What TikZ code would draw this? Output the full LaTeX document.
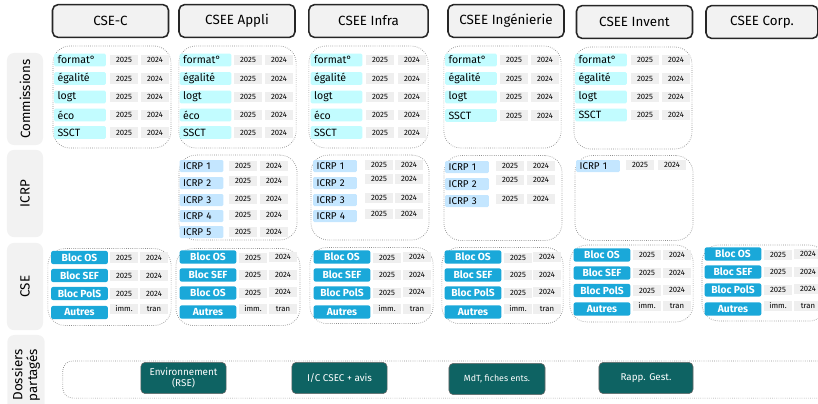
\documentclass[tikz,border=0pt]{standalone}
\usepackage{fontspec}
\setmainfont{Fira Sans}

\definecolor{headgray}{HTML}{F2F2F2}
\definecolor{comcyan}{HTML}{C2FCFF}
\definecolor{icrpblue}{HTML}{C4E6FF}
\definecolor{cseblue}{HTML}{1AA8D9}
\definecolor{yeargray}{HTML}{EFEFEF}
\definecolor{dosteal}{HTML}{0E6363}
\definecolor{panelgray}{HTML}{8C8C8C}

\tikzstyle{head}=[draw=black!85, line width=1.1pt, fill=headgray, rounded corners=4pt, minimum width=2.9cm, minimum height=0.82cm, font=\fontsize{9.5}{10.5}\selectfont]
\tikzstyle{side}=[fill=headgray, rounded corners=5pt, rotate=90, minimum height=0.9cm, align=center, font=\fontsize{9.5}{10.5}\selectfont]
\tikzstyle{panel}=[draw=panelgray, densely dotted, line width=0.5pt, rounded corners=12pt]
\tikzstyle{com}=[fill=comcyan, rounded corners=1pt, minimum height=0.32cm, text width=1.12cm, inner xsep=2.5pt, inner ysep=0pt, align=left, font=\fontsize{7.5}{8}\selectfont]
\tikzstyle{icrp}=[fill=icrpblue, rounded corners=1pt, minimum height=0.3cm, text width=0.92cm, inner xsep=2.5pt, inner ysep=0pt, align=left, font=\fontsize{7}{7.5}\selectfont]
\tikzstyle{bloc}=[fill=cseblue, text=white, rounded corners=1.5pt, minimum width=1.42cm, minimum height=0.33cm, inner sep=0pt, font=\bfseries\fontsize{7.3}{8}\selectfont]
\tikzstyle{year}=[fill=yeargray, minimum width=0.72cm, minimum height=0.26cm, inner sep=0pt, font=\fontsize{5.5}{6}\selectfont]
\tikzstyle{dossier}=[fill=dosteal, draw=black!60, text=white, rounded corners=3pt, minimum height=0.78cm, align=center, font=\fontsize{7}{8}\selectfont]

\begin{document}
\begin{tikzpicture}[x=0.025cm, y=-0.025cm]

\useasboundingbox (0, 0) rectangle (818, 403);
\clip (0, 0) rectangle (818, 403);

% column heads
\node [head] (h-c) at (110.5, 21) {CSE-C};
\node [head] (h-appli) at (237, 21) {CSEE Appli};
\node [head, minimum width=2.98cm] (h-infra) at (368.5, 21) {CSEE Infra};
\node [head] (h-inge) at (506, 21) {CSEE Ingénierie};
\node [head] (h-invent) at (634.5, 22) {CSEE Invent};
\node [head, minimum width=2.8cm] (h-corp) at (762, 22) {CSEE Corp.};

% row heads
\node [side, minimum width=2.3cm] (s-com) at (25, 99) {Commissions};
\node [side, minimum width=2.18cm] (s-icrp) at (25, 193.5) {ICRP};
\node [side, minimum width=2.18cm] (s-cse) at (25, 286.5) {CSE};
\node [side, minimum width=2cm] (s-dos) at (26, 375) {Dossiers\\partagés};

% panels
\node [panel, minimum width=2.95cm, minimum height=2.55cm] (p-com-c) at (112, 97) {};
\node [panel, minimum width=2.93cm, minimum height=2.55cm] (p-com-appli) at (237.5, 97) {};
\node [panel, minimum width=2.98cm, minimum height=2.55cm] (p-com-infra) at (368.5, 97) {};
\node [panel, minimum width=2.93cm, minimum height=2.55cm] (p-com-inge) at (502.5, 97) {};
\node [panel, minimum width=2.95cm, minimum height=2.55cm] (p-com-invent) at (633, 98) {};
\node [panel, minimum width=2.95cm, minimum height=2.12cm] (p-icrp-appli) at (238, 197.5) {};
\node [panel, minimum width=2.95cm, minimum height=2.12cm] (p-icrp-infra) at (370, 197.5) {};
\node [panel, minimum width=2.95cm, minimum height=2.12cm] (p-icrp-inge) at (503, 198) {};
\node [panel, minimum width=2.95cm, minimum height=2.12cm] (p-icrp-invent) at (634, 198) {};
\node [panel, minimum width=3.08cm, minimum height=1.92cm] (p-cse-c) at (109.5, 287) {};
\node [panel, minimum width=3.1cm, minimum height=1.92cm] (p-cse-appli) at (238, 287) {};
\node [panel, minimum width=3.08cm, minimum height=1.9cm] (p-cse-infra) at (371.5, 285.5) {};
\node [panel, minimum width=3.03cm, minimum height=1.9cm] (p-cse-inge) at (502.5, 285.5) {};
\node [panel, minimum width=3.08cm, minimum height=1.92cm] (p-cse-invent) at (631.5, 283.5) {};
\node [panel, minimum width=3.1cm, minimum height=1.9cm] (p-cse-corp) at (764, 283) {};
\node [panel, minimum width=19.18cm, minimum height=0.93cm, rounded corners=7pt] (p-dos) at (446.5, 379.5) {};

% commissions
\node [com] (cc-f) at (80, 60) {format°}; \node [year] (cc-f25) at (124, 60) {2025}; \node [year] (cc-f24) at (155, 60) {2024};
\node [com] (cc-e) at (80, 78.5) {égalité}; \node [year] (cc-e25) at (124, 78.5) {2025}; \node [year] (cc-e24) at (155, 78.5) {2024};
\node [com] (cc-l) at (80, 97) {logt}; \node [year] (cc-l25) at (124, 97) {2025}; \node [year] (cc-l24) at (155, 97) {2024};
\node [com] (cc-o) at (80, 115) {éco}; \node [year] (cc-o25) at (124, 115) {2025}; \node [year] (cc-o24) at (155, 115) {2024};
\node [com] (cc-s) at (80, 132.5) {SSCT}; \node [year] (cc-s25) at (124, 132.5) {2025}; \node [year] (cc-s24) at (155, 132.5) {2024};

\node [com] (ca-f) at (205.5, 60) {format°}; \node [year] (ca-f25) at (248, 60) {2025}; \node [year] (ca-f24) at (279, 60) {2024};
\node [com] (ca-e) at (205.5, 78.5) {égalité}; \node [year] (ca-e25) at (248, 78.5) {2025}; \node [year] (ca-e24) at (279, 78.5) {2024};
\node [com] (ca-l) at (205.5, 97) {logt}; \node [year] (ca-l25) at (248, 97) {2025}; \node [year] (ca-l24) at (279, 97) {2024};
\node [com] (ca-o) at (205.5, 115) {éco}; \node [year] (ca-o25) at (248, 115) {2025}; \node [year] (ca-o24) at (279, 115) {2024};
\node [com] (ca-s) at (205.5, 132.5) {SSCT}; \node [year] (ca-s25) at (248, 132.5) {2025}; \node [year] (ca-s24) at (279, 132.5) {2024};

\node [com] (cf-f) at (336.5, 60) {format°}; \node [year] (cf-f25) at (380, 60) {2025}; \node [year] (cf-f24) at (412, 60) {2024};
\node [com] (cf-e) at (336.5, 78.5) {égalité}; \node [year] (cf-e25) at (380, 78.5) {2025}; \node [year] (cf-e24) at (412, 78.5) {2024};
\node [com] (cf-l) at (336.5, 97) {logt}; \node [year] (cf-l25) at (380, 97) {2025}; \node [year] (cf-l24) at (412, 97) {2024};
\node [com] (cf-o) at (336.5, 115) {éco}; \node [year] (cf-o25) at (380, 115) {2025}; \node [year] (cf-o24) at (412, 115) {2024};
\node [com] (cf-s) at (336.5, 132.5) {SSCT}; \node [year] (cf-s25) at (380, 132.5) {2025}; \node [year] (cf-s24) at (412, 132.5) {2024};

\node [com] (cg-f) at (471, 60) {format°}; \node [year] (cg-f25) at (514, 60) {2025}; \node [year] (cg-f24) at (545, 60) {2024};
\node [com] (cg-e) at (471, 78.5) {égalité}; \node [year] (cg-e25) at (514, 78.5) {2025}; \node [year] (cg-e24) at (545, 78.5) {2024};
\node [com] (cg-l) at (471, 97) {logt}; \node [year] (cg-l25) at (514, 97) {2025}; \node [year] (cg-l24) at (545, 97) {2024};
\node [com] (cg-s) at (471, 115.5) {SSCT}; \node [year] (cg-s25) at (514, 115.5) {2025}; \node [year] (cg-s24) at (545, 115.5) {2024};

\node [com] (cv-f) at (601, 60) {format°}; \node [year] (cv-f25) at (645, 60) {2025}; \node [year] (cv-f24) at (676, 60) {2024};
\node [com] (cv-e) at (601, 78.5) {égalité}; \node [year] (cv-e25) at (645, 78.5) {2025}; \node [year] (cv-e24) at (676, 78.5) {2024};
\node [com] (cv-l) at (601, 97) {logt}; \node [year] (cv-l25) at (645, 97) {2025}; \node [year] (cv-l24) at (676, 97) {2024};
\node [com] (cv-s) at (601, 115) {SSCT}; \node [year] (cv-s25) at (645, 115) {2025}; \node [year] (cv-s24) at (676, 115) {2024};

% ICRP
\node [icrp] (ia-1) at (201.5, 166) {ICRP 1}; \node [year] (ia-125) at (243, 166) {2025}; \node [year] (ia-124) at (274, 166) {2024};
\node [icrp] (ia-2) at (201.5, 183) {ICRP 2}; \node [year] (ia-225) at (243, 181) {2025}; \node [year] (ia-224) at (274, 181) {2024};
\node [icrp] (ia-3) at (201.5, 200) {ICRP 3}; \node [year] (ia-325) at (243, 199) {2025}; \node [year] (ia-324) at (274, 199) {2024};
\node [icrp] (ia-4) at (201.5, 216) {ICRP 4}; \node [year] (ia-425) at (243, 215) {2025}; \node [year] (ia-424) at (274, 215) {2024};
\node [icrp] (ia-5) at (201.5, 232) {ICRP 5}; \node [year] (ia-525) at (243, 232) {2025}; \node [year] (ia-524) at (274, 232) {2024};

\node [icrp] (if-1) at (335, 166) {ICRP 1}; \node [year] (if-125) at (379, 165) {2025}; \node [year] (if-124) at (409, 165) {2024};
\node [icrp] (if-2) at (335, 183) {ICRP 2}; \node [year] (if-225) at (379, 179) {2025}; \node [year] (if-224) at (409, 179) {2024};
\node [icrp] (if-3) at (335, 200) {ICRP 3}; \node [year] (if-325) at (379, 198) {2025}; \node [year] (if-324) at (409, 198) {2024};
\node [icrp] (if-4) at (335, 216) {ICRP 4}; \node [year] (if-425) at (379, 214) {2025}; \node [year] (if-424) at (409, 214) {2024};

\node [icrp] (ig-1) at (467, 167) {ICRP 1}; \node [year] (ig-125) at (510, 166) {2025}; \node [year] (ig-124) at (541, 166) {2024};
\node [icrp] (ig-2) at (467, 184) {ICRP 2}; \node [year] (ig-225) at (510, 180) {2025}; \node [year] (ig-224) at (541, 180) {2024};
\node [icrp] (ig-3) at (467, 201) {ICRP 3}; \node [year] (ig-325) at (510, 199) {2025}; \node [year] (ig-324) at (541, 199) {2024};

\node [icrp] (iv-1) at (598, 166) {ICRP 1}; \node [year] (iv-125) at (640, 165) {2025}; \node [year] (iv-124) at (672, 165) {2024};

% CSE
\node [bloc] (bc-os) at (79.5, 257.5) {Bloc OS}; \node [year] (bc-os25) at (124, 257.5) {2025}; \node [year] (bc-os24) at (154, 257.5) {2024};
\node [bloc] (bc-sef) at (79.5, 275.5) {Bloc SEF}; \node [year] (bc-sef25) at (124, 275.5) {2025}; \node [year] (bc-sef24) at (154, 275.5) {2024};
\node [bloc] (bc-pol) at (79.5, 293.5) {Bloc PolS}; \node [year] (bc-pol25) at (124, 293.5) {2025}; \node [year] (bc-pol24) at (154, 293.5) {2024};
\node [bloc] (bc-aut) at (79.5, 312.5) {Autres}; \node [year] (bc-imm) at (124, 309) {imm.}; \node [year] (bc-tran) at (154, 309) {tran};

\node [bloc] (ba-os) at (208, 257) {Bloc OS}; \node [year] (ba-os25) at (253, 258) {2025}; \node [year] (ba-os24) at (283, 257) {2024};
\node [bloc] (ba-sef) at (208, 275) {Bloc SEF}; \node [year] (ba-sef25) at (253, 275) {2025}; \node [year] (ba-sef24) at (283, 275) {2024};
\node [bloc] (ba-os2) at (208, 293) {Bloc OS}; \node [year] (ba-os225) at (253, 293) {2025}; \node [year] (ba-os224) at (283, 292) {2024};
\node [bloc] (ba-aut) at (208, 312) {Autres}; \node [year] (ba-imm) at (253, 309) {imm.}; \node [year] (ba-tran) at (283, 309) {tran};

\node [bloc] (bf-os) at (342, 257) {Bloc OS}; \node [year] (bf-os25) at (387, 258) {2025}; \node [year] (bf-os24) at (417, 257) {2024};
\node [bloc] (bf-sef) at (342, 275) {Bloc SEF}; \node [year] (bf-sef25) at (387, 275) {2025}; \node [year] (bf-sef24) at (417, 275) {2024};
\node [bloc] (bf-pol) at (342, 293) {Bloc PolS}; \node [year] (bf-pol25) at (387, 293) {2025}; \node [year] (bf-pol24) at (417, 292) {2024};
\node [bloc] (bf-aut) at (342, 312) {Autres}; \node [year] (bf-imm) at (387, 309) {imm.}; \node [year] (bf-tran) at (417, 309) {tran};

\node [bloc] (bg-os) at (473, 257) {Bloc OS}; \node [year] (bg-os25) at (518, 258) {2025}; \node [year] (bg-os24) at (547, 257) {2024};
\node [bloc] (bg-sef) at (473, 275) {Bloc SEF}; \node [year] (bg-sef25) at (518, 275) {2025}; \node [year] (bg-sef24) at (547, 275) {2024};
\node [bloc] (bg-pol) at (473, 293) {Bloc PolS}; \node [year] (bg-pol25) at (518, 293) {2025}; \node [year] (bg-pol24) at (547, 292) {2024};
\node [bloc] (bg-aut) at (473, 312) {Autres}; \node [year] (bg-imm) at (518, 309) {imm.}; \node [year] (bg-tran) at (547, 309) {tran};

\node [bloc] (bv-os) at (602, 255) {Bloc OS}; \node [year] (bv-os25) at (647, 255) {2025}; \node [year] (bv-os24) at (677, 255) {2024};
\node [bloc] (bv-sef) at (602, 273) {Bloc SEF}; \node [year] (bv-sef25) at (647, 273) {2025}; \node [year] (bv-sef24) at (677, 273) {2024};
\node [bloc] (bv-pol) at (602, 290.5) {Bloc PolS}; \node [year] (bv-pol25) at (647, 290.5) {2025}; \node [year] (bv-pol24) at (677, 290) {2024};
\node [bloc] (bv-aut) at (602, 309) {Autres}; \node [year] (bv-imm) at (647, 306) {imm.}; \node [year] (bv-tran) at (677, 306) {tran};

\node [bloc] (bp-os) at (733, 254) {Bloc OS}; \node [year] (bp-os25) at (778, 255) {2025}; \node [year] (bp-os24) at (808, 254) {2024};
\node [bloc] (bp-sef) at (733, 272) {Bloc SEF}; \node [year] (bp-sef25) at (778, 272) {2025}; \node [year] (bp-sef24) at (808, 272) {2024};
\node [bloc] (bp-pol) at (733, 290) {Bloc PolS}; \node [year] (bp-pol25) at (778, 290) {2025}; \node [year] (bp-pol24) at (808, 289) {2024};
\node [bloc] (bp-aut) at (733, 309) {Autres}; \node [year] (bp-imm) at (778, 306) {imm.}; \node [year] (bp-tran) at (808, 306) {tran};

% shared files
\node [dossier, minimum width=2.13cm] (d-env) at (183.5, 378) {Environnement\\(RSE)};
\node [dossier, minimum width=2.38cm] (d-ic) at (339.5, 378) {I/C CSEC + avis};
\node [dossier, minimum width=2.4cm] (d-mdt) at (497, 379) {\fontsize{6.3}{7}\selectfont MdT, fiches ents.};
\node [dossier, minimum width=2.35cm] (d-rapp) at (646, 378) {Rapp. Gest.};

\end{tikzpicture}
\end{document}
